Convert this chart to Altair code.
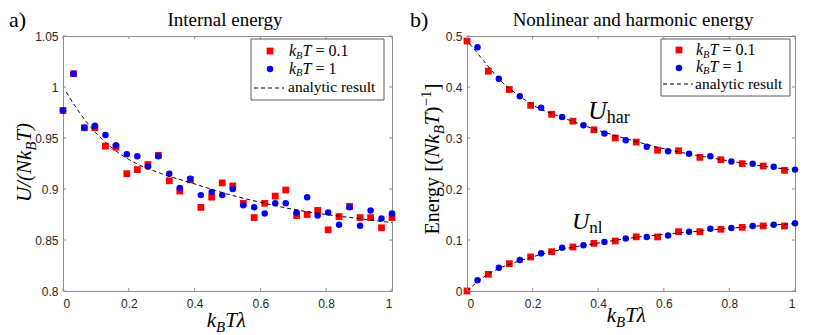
import altair as alt
import pandas as pd

# ---------------- data ----------------
x_all = [0.000, 0.032, 0.065, 0.097, 0.129, 0.161, 0.194, 0.226, 0.258, 0.290, 0.323,
         0.355, 0.387, 0.419, 0.452, 0.484, 0.516, 0.548, 0.581, 0.613, 0.645, 0.677,
         0.710, 0.742, 0.774, 0.806, 0.839, 0.871, 0.903, 0.935, 0.968, 1.000]
left_red = [0.977, 1.013, 0.960, 0.960, 0.942, 0.941, 0.915, 0.919, 0.924, 0.933, 0.908,
            0.898, 0.909, 0.882, 0.892, 0.906, 0.903, 0.886, 0.872, 0.886, 0.893, 0.899,
            0.874, 0.875, 0.879, 0.860, 0.873, 0.883, 0.872, 0.872, 0.862, 0.872]
left_blue = [0.977, 1.013, 0.960, 0.962, 0.953, 0.943, 0.934, 0.932, 0.922, 0.932, 0.915,
             0.901, 0.910, 0.894, 0.897, 0.894, 0.900, 0.884, 0.882, 0.876, 0.886, 0.886,
             0.877, 0.892, 0.874, 0.877, 0.865, 0.882, 0.864, 0.879, 0.871, 0.876]
left_curve_x = [0.01, 0.05, 0.1, 0.15, 0.2, 0.3, 0.4, 0.5, 0.6, 0.7, 0.8, 0.9, 1.0]
left_curve_y = [0.995, 0.975, 0.955, 0.940, 0.929, 0.915, 0.905, 0.895, 0.887, 0.880, 0.875, 0.871, 0.867]

x_even = [0.000, 0.065, 0.129, 0.194, 0.258, 0.323, 0.387, 0.452, 0.516, 0.581, 0.645,
          0.710, 0.774, 0.839, 0.903, 0.968]
x_odd = [0.032, 0.097, 0.161, 0.226, 0.290, 0.355, 0.419, 0.484, 0.548, 0.613, 0.677,
         0.742, 0.806, 0.871, 0.935, 1.000]
uhar_red = [0.490, 0.431, 0.395, 0.364, 0.3465, 0.333, 0.316, 0.300, 0.292, 0.276, 0.275,
            0.262, 0.2575, 0.2497, 0.245, 0.2366]
uhar_blue = [0.478, 0.416, 0.382, 0.3595, 0.341, 0.325, 0.309, 0.2955, 0.283, 0.274, 0.269,
             0.264, 0.254, 0.2497, 0.2438, 0.238]
unl_red = [0.000, 0.0327, 0.0536, 0.0667, 0.0771, 0.0863, 0.0935, 0.098, 0.1062, 0.106,
           0.1163, 0.1163, 0.121, 0.1248, 0.1275, 0.1275]
unl_blue = [0.0209, 0.0458, 0.0608, 0.0739, 0.085, 0.0895, 0.0961, 0.103, 0.106, 0.109,
            0.1163, 0.122, 0.1235, 0.1275, 0.130, 0.1327]
har_curve_x = [0.008, 0.05, 0.1, 0.15, 0.2, 0.3, 0.4, 0.5, 0.6, 0.7, 0.8, 0.9, 1.0]
har_curve_y = [0.485, 0.452, 0.414, 0.387, 0.365, 0.338, 0.315, 0.296, 0.279, 0.266, 0.255, 0.245, 0.237]
nl_curve_x = [0.0, 0.05, 0.1, 0.15, 0.2, 0.3, 0.4, 0.5, 0.6, 0.7, 0.8, 0.9, 1.0]
nl_curve_y = [0.0, 0.027, 0.045, 0.057, 0.067, 0.083, 0.094, 0.104, 0.111, 0.117, 0.123, 0.128, 0.132]

x_ticks = [0, 0.2, 0.4, 0.6, 0.8, 1]
left_y_ticks = [0.8, 0.85, 0.9, 0.95, 1, 1.05]
right_y_ticks = [0, 0.1, 0.2, 0.3, 0.4, 0.5]

# ---------------- style ----------------
AX = "#8c8c8c"
LAB = "#262626"
SERIF = "Liberation Serif"
SANS = "Liberation Sans"
RED = "#ff0000"
BLUE = "#0000ff"
W1, W2, H = 329, 328, 255
TK = 3

one = pd.DataFrame({"k": [0]})

ROMAN_W = {'E': .611, 'n': .5, 'e': .444, 'r': .333, 'g': .5, 'y': .5, ' ': .25, '[': .333,
           ']': .333, '(': .333, ')': .333, '=': .564, '0': .5, '.': .25, '1': .5, '−': .564,
           'h': .5, 'a': .444, 'l': .278}
ITAL_W = {'U': .722, '/': .278, '(': .333, 'N': .667, 'k': .444, 'B': .611, 'T': .556,
          ')': .333, 'λ': .5}


def tw(s, size, style):
    table = ITAL_W if style == "italic" else ROMAN_W
    return sum(table.get(c, .5) for c in s) * size


def text_at(s, x, y, size, style="normal", angle=0, align="left", baseline="alphabetic",
            font=SERIF):
    kw = dict(text=s, font=font, fontSize=size, fontStyle=style, align=align,
              baseline=baseline, color="black")
    if angle:
        kw["angle"] = angle
    return alt.Chart(one).mark_text(**kw).encode(x=alt.value(x), y=alt.value(y))


def run(parts, x0, y0, vertical=False, center=False):
    total = sum(tw(s, sz, st) for s, sz, st, _ in parts)
    pos = -total / 2 if center else 0
    out = []
    for s, sz, st, rise in parts:
        lead = len(s) - len(s.lstrip(" "))
        pos += tw(" " * lead, sz, st)
        body = s.strip(" ")
        if vertical:
            out.append(text_at(body, x0 - rise, y0 - pos, sz, st, angle=270))
        else:
            out.append(text_at(body, x0 + pos, y0 - rise, sz, st))
        pos += tw(s.lstrip(" "), sz, st)
    return out


def kbt(val, size=16, sub=10.5):
    return [("k", size, "italic", 0), ("B", sub, "italic", -2.5), ("T", size, "italic", 0),
            (" = " + val, size, "normal", 0)]


AXIS_X = alt.Axis(values=x_ticks, format=".1~f", grid=False, ticks=False, tickSize=0,
                  domain=False, labelFont=SANS, labelFontSize=12, labelColor=LAB,
                  labelPadding=7, title="")


def axis_y(vals, fmt):
    return alt.Axis(values=vals, format=fmt, grid=False, ticks=False, tickSize=0,
                    domain=False, labelFont=SANS, labelFontSize=12, labelColor=LAB,
                    labelPadding=5, title="")


AXIS_YL = axis_y(left_y_ticks, ".2~f")
AXIS_YR = axis_y(right_y_ticks, ".1~f")


def tick_layers(sx, sy, ay, yvals, W):
    dfx = pd.DataFrame({"v": x_ticks})
    dfy = pd.DataFrame({"v": yvals})
    out = []
    for a, b in ((0, TK), (W - TK, W)):
        out.append(alt.Chart(dfy).mark_rule(color=AX, strokeWidth=1).encode(
            y=alt.Y("v:Q", scale=sy, axis=ay), x=alt.value(a), x2=alt.value(b)))
    for a, b in ((H, H - TK), (0, TK)):
        out.append(alt.Chart(dfx).mark_rule(color=AX, strokeWidth=1).encode(
            x=alt.X("v:Q", scale=sx, axis=AXIS_X), y=alt.value(a), y2=alt.value(b)))
    return out


def legend(bx0, bx1, by0, by1, sym_x, ys, dash_x0, dash_x1, dash_y, text_x, text_ys):
    out = [alt.Chart(one).mark_rect(fill="white", stroke="#5a5a5a", strokeWidth=1).encode(
        x=alt.value(bx0), x2=alt.value(bx1), y=alt.value(by0), y2=alt.value(by1))]
    out.append(alt.Chart(one).mark_point(shape="square", filled=True, size=46, color=RED,
                                         opacity=1).encode(x=alt.value(sym_x), y=alt.value(ys[0])))
    out.append(alt.Chart(one).mark_circle(size=42, color=BLUE, opacity=1).encode(
        x=alt.value(sym_x), y=alt.value(ys[1])))
    out.append(alt.Chart(one).mark_rule(color="black", strokeWidth=1, strokeDash=[4, 3]).encode(
        x=alt.value(dash_x0), x2=alt.value(dash_x1), y=alt.value(dash_y)))
    out += run(kbt("0.1"), text_x, text_ys[0])
    out += run(kbt("1"), text_x, text_ys[1])
    out.append(text_at("analytic result", text_x - 1, text_ys[2], 15.5))
    return out


sx = alt.Scale(domain=[0, 1], nice=False)

# ---------------- left panel ----------------
syL = alt.Scale(domain=[0.8, 1.05], nice=False, zero=False)
dfL = pd.DataFrame({"x": x_all, "red": left_red, "blue": left_blue})
dfLc = pd.DataFrame({"x": left_curve_x, "y": left_curve_y})

l_red = alt.Chart(dfL).mark_point(shape="square", filled=True, size=46, color=RED, opacity=1).encode(
    x=alt.X("x:Q", scale=sx, axis=AXIS_X), y=alt.Y("red:Q", scale=syL, axis=AXIS_YL))
l_blue = alt.Chart(dfL).mark_circle(size=42, color=BLUE, opacity=1).encode(
    x=alt.X("x:Q", scale=sx, axis=AXIS_X), y=alt.Y("blue:Q", scale=syL, axis=AXIS_YL))
l_curve = alt.Chart(dfLc).mark_line(color="black", strokeWidth=1, strokeDash=[4, 3],
                                    interpolate="monotone").encode(
    x=alt.X("x:Q", scale=sx, axis=AXIS_X), y=alt.Y("y:Q", scale=syL, axis=AXIS_YL))

left_layers = [l_red, l_blue, l_curve] + tick_layers(sx, syL, AXIS_YL, left_y_ticks, W1)
left_layers += legend(188, 321, 3, 64, 207, (15, 33), 191, 221, 52, 226, (20, 37.5, 56))
left_layers.append(text_at("a)", -54, -9, 22))
left_layers.append(text_at("Internal energy", 162, -10, 19, align="center"))
left_layers += run([("U/(Nk", 21, "italic", 0), ("B", 15, "italic", -5), ("T)", 21, "italic", 0)],
                   -32, 126.5, vertical=True, center=True)
left_layers += run([("k", 21, "italic", 0), ("B", 15, "italic", -5), ("Tλ", 21, "italic", 0)],
                   164, 291, center=True)
left = alt.layer(*left_layers).properties(width=W1, height=H)

# ---------------- right panel ----------------
syR = alt.Scale(domain=[0, 0.5], nice=False, zero=False)
dfRr = pd.DataFrame({"x": x_even, "har": uhar_red, "nl": unl_red})
dfRb = pd.DataFrame({"x": x_odd, "har": uhar_blue, "nl": unl_blue})
dfHc = pd.DataFrame({"x": har_curve_x, "y": har_curve_y})
dfNc = pd.DataFrame({"x": nl_curve_x, "y": nl_curve_y})

right_layers = []
for col in ("har", "nl"):
    right_layers.append(alt.Chart(dfRr).mark_point(shape="square", filled=True, size=46, color=RED,
                                                   opacity=1).encode(
        x=alt.X("x:Q", scale=sx, axis=AXIS_X), y=alt.Y(col + ":Q", scale=syR, axis=AXIS_YR)))
    right_layers.append(alt.Chart(dfRb).mark_circle(size=42, color=BLUE, opacity=1).encode(
        x=alt.X("x:Q", scale=sx, axis=AXIS_X), y=alt.Y(col + ":Q", scale=syR, axis=AXIS_YR)))
for dfc in (dfHc, dfNc):
    right_layers.append(alt.Chart(dfc).mark_line(color="black", strokeWidth=1, strokeDash=[4, 3],
                                                 interpolate="monotone").encode(
        x=alt.X("x:Q", scale=sx, axis=AXIS_X), y=alt.Y("y:Q", scale=syR, axis=AXIS_YR)))
right_layers += tick_layers(sx, syR, AXIS_YR, right_y_ticks, W2)
right_layers += legend(194, 323, 3, 60, 212, (14, 32), 196, 226, 48, 229, (19, 35.5, 53))
right_layers.append(text_at("b)", -57, -9, 22))
right_layers.append(text_at("Nonlinear and harmonic energy", 166, -10, 19, align="center"))
right_layers += run([("U", 26, "italic", 0), ("har", 18, "normal", -4)], 121, 83)
right_layers += run([("U", 24, "italic", 0), ("nl", 17, "normal", -4)], 105, 193)
right_layers += run([("Energy ", 20, "normal", 0), ("[(", 21, "normal", 0), ("Nk", 21, "italic", 0),
                     ("B", 15, "italic", -5), ("T", 21, "italic", 0), (")", 21, "normal", 0),
                     ("−1", 15, "normal", 8), ("]", 21, "normal", 0)],
                    -28, 123, vertical=True, center=True)
right_layers += run([("k", 21, "italic", 0), ("B", 15, "italic", -5), ("Tλ", 21, "italic", 0)],
                    160, 286, center=True)
right = alt.layer(*right_layers).properties(width=W2, height=H)

chart = alt.hconcat(left, right, spacing=13).properties(padding=0).configure_view(
    stroke=AX, strokeWidth=1)

chart.save("out.html", embed_options={"renderer": "svg", "actions": False})
